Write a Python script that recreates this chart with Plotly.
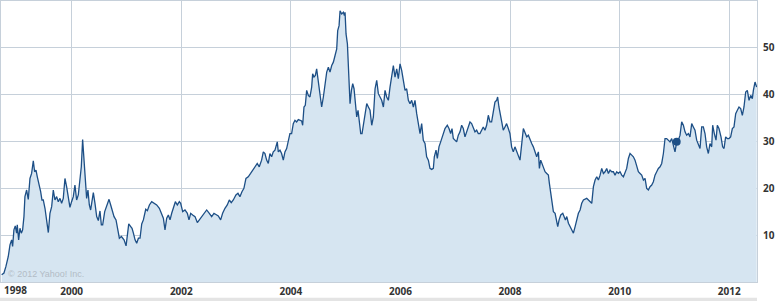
import pandas as pd
import plotly.graph_objects as go

# Decimal-year positions and closing prices
years = [
    1998.722, 1998.764, 1998.800, 1998.843, 1998.874, 1998.904, 1998.922, 1998.946, 1998.971, 1998.995,
    1999.007, 1999.032, 1999.056, 1999.081, 1999.105, 1999.129, 1999.147, 1999.178, 1999.208, 1999.239,
    1999.269, 1999.300, 1999.324, 1999.349, 1999.373, 1999.409, 1999.434, 1999.458, 1999.482, 1999.513,
    1999.543, 1999.574, 1999.604, 1999.635, 1999.665, 1999.695, 1999.726, 1999.756, 1999.787, 1999.817,
    1999.847, 1999.878, 1999.908, 1999.939, 1999.969, 1999.999, 2000.030, 2000.060, 2000.091, 2000.121,
    2000.151, 2000.176, 2000.200, 2000.224, 2000.249, 2000.273, 2000.297, 2000.322, 2000.346, 2000.370,
    2000.395, 2000.425, 2000.456, 2000.486, 2000.516, 2000.541, 2000.565, 2000.602, 2000.638, 2000.681,
    2000.711, 2000.747, 2000.772, 2000.808, 2000.839, 2000.869, 2000.906, 2000.954, 2000.991, 2001.015,
    2001.040, 2001.076, 2001.100, 2001.125, 2001.155, 2001.185, 2001.216, 2001.246, 2001.277, 2001.307,
    2001.350, 2001.380, 2001.417, 2001.459, 2001.502, 2001.550, 2001.599, 2001.642, 2001.672, 2001.702,
    2001.733, 2001.763, 2001.794, 2001.824, 2001.855, 2001.891, 2001.927, 2001.964, 2001.988, 2002.025,
    2002.067, 2002.110, 2002.140, 2002.171, 2002.207, 2002.250, 2002.292, 2002.329, 2002.365, 2002.414,
    2002.463, 2002.511, 2002.554, 2002.596, 2002.633, 2002.675, 2002.718, 2002.754, 2002.797, 2002.839,
    2002.876, 2002.912, 2002.949, 2002.997, 2003.034, 2003.070, 2003.107, 2003.143, 2003.180, 2003.222,
    2003.265, 2003.301, 2003.344, 2003.386, 2003.423,
    2003.466, 2003.497, 2003.527, 2003.558, 2003.588, 2003.618, 2003.649, 2003.679, 2003.710, 2003.752,
    2003.771, 2003.801, 2003.831, 2003.862, 2003.892, 2003.923, 2003.953, 2003.983, 2004.014, 2004.044,
    2004.075, 2004.105, 2004.136, 2004.166, 2004.196, 2004.215, 2004.239, 2004.263, 2004.288, 2004.318,
    2004.348, 2004.379, 2004.397, 2004.421, 2004.446, 2004.470, 2004.500, 2004.531, 2004.561, 2004.592,
    2004.622, 2004.653, 2004.683, 2004.713, 2004.744, 2004.774, 2004.805, 2004.835, 2004.853, 2004.878,
    2004.896, 2004.926, 2004.957, 2004.975, 2004.987, 2005.005, 2005.030, 2005.054, 2005.078, 2005.103,
    2005.127, 2005.151, 2005.176, 2005.200, 2005.224, 2005.249, 2005.273, 2005.297, 2005.322, 2005.352,
    2005.383, 2005.413, 2005.443, 2005.474, 2005.504, 2005.535, 2005.565, 2005.595, 2005.626, 2005.656,
    2005.687, 2005.717, 2005.747, 2005.778, 2005.808, 2005.839, 2005.869, 2005.899, 2005.930, 2005.960,
    2005.991, 2006.021, 2006.052, 2006.082, 2006.112, 2006.143, 2006.173, 2006.204, 2006.234, 2006.264,
    2006.295, 2006.325, 2006.356, 2006.386, 2006.416, 2006.447, 2006.477, 2006.508, 2006.538, 2006.569,
    2006.599, 2006.617, 2006.648, 2006.672, 2006.702, 2006.733, 2006.769, 2006.812, 2006.854, 2006.885,
    2006.915, 2006.940, 2006.964, 2006.994, 2007.025, 2007.055, 2007.086, 2007.116, 2007.146, 2007.177,
    2007.207, 2007.238, 2007.268, 2007.298, 2007.329, 2007.359, 2007.390, 2007.420, 2007.450, 2007.481,
    2007.511, 2007.542, 2007.572, 2007.603, 2007.633, 2007.663, 2007.694, 2007.724, 2007.755, 2007.773,
    2007.797, 2007.815, 2007.846, 2007.876, 2007.907, 2007.937, 2007.968, 2007.998, 2008.028, 2008.059,
    2008.089, 2008.120, 2008.150, 2008.181,
    2008.242, 2008.272, 2008.303, 2008.333, 2008.363, 2008.394, 2008.424, 2008.455, 2008.485, 2008.516,
    2008.534, 2008.558, 2008.582, 2008.607, 2008.637, 2008.668, 2008.698, 2008.716, 2008.741, 2008.765,
    2008.789, 2008.820, 2008.850, 2008.868, 2008.893, 2008.923, 2008.960, 2008.984, 2009.008, 2009.033,
    2009.063, 2009.093, 2009.124, 2009.154, 2009.185, 2009.215, 2009.245, 2009.276, 2009.306, 2009.337,
    2009.367, 2009.397, 2009.428, 2009.458, 2009.489, 2009.519, 2009.550, 2009.580, 2009.610, 2009.641,
    2009.671, 2009.702, 2009.732, 2009.762, 2009.793, 2009.823, 2009.854, 2009.884, 2009.914, 2009.945,
    2009.975, 2010.006, 2010.036, 2010.067, 2010.097, 2010.127, 2010.158, 2010.188, 2010.219, 2010.249,
    2010.279, 2010.310, 2010.340, 2010.371, 2010.401, 2010.432, 2010.462, 2010.492, 2010.523, 2010.553,
    2010.584, 2010.614, 2010.644, 2010.675, 2010.705, 2010.736, 2010.766, 2010.797, 2010.827, 2010.857,
    2010.888, 2010.918, 2010.949, 2010.979, 2011.009, 2011.040, 2011.070, 2011.101, 2011.131, 2011.162,
    2011.192, 2011.222, 2011.253, 2011.283, 2011.314, 2011.344, 2011.374, 2011.405, 2011.435, 2011.466,
    2011.496, 2011.526, 2011.557, 2011.587, 2011.618, 2011.648, 2011.679, 2011.697, 2011.727, 2011.758,
    2011.782, 2011.812, 2011.849, 2011.879, 2011.904, 2011.934, 2011.964, 2011.995, 2012.025, 2012.056,
    2012.086, 2012.117, 2012.147, 2012.177, 2012.208, 2012.238, 2012.268, 2012.299, 2012.329, 2012.360,
    2012.390, 2012.420, 2012.439, 2012.469, 2012.499,
]

prices = [
    1.55, 1.91, 3.33, 5.45, 7.94, 9.00, 7.58, 11.13, 11.98, 10.42,
    12.19, 9.00, 11.48, 10.42, 11.13, 13.96, 18.22, 19.64, 17.65, 22.11,
    23.18, 25.88, 23.54, 23.89, 22.47, 20.70, 19.28, 17.51, 17.51, 15.74,
    13.26, 10.56, 14.67, 16.09, 19.64, 17.51, 18.22, 17.15, 17.86, 16.80,
    17.86, 22.11, 20.35, 17.51, 15.95, 17.15, 18.22, 20.70, 17.51, 18.58,
    21.41, 24.60, 30.42, 26.73, 22.47, 17.86, 19.64, 16.45, 15.38, 16.80,
    19.07, 16.80, 13.96, 13.11, 15.17, 12.19, 12.19, 15.03, 16.09, 17.65,
    16.45, 14.67, 13.96, 13.26, 11.13, 9.35, 9.71, 9.00, 7.72, 10.42,
    12.40, 11.84, 11.48, 10.42, 9.00, 8.29, 9.35, 9.35, 12.40, 13.26,
    15.53, 15.24, 16.45, 17.15, 16.80, 16.45, 15.74, 14.32, 13.61, 11.13,
    13.61, 14.32, 13.26, 14.67, 15.74, 17.15, 16.45, 17.15, 16.80, 15.03,
    15.38, 14.67, 13.26, 14.67, 14.32, 13.96, 12.69, 13.26, 13.96, 14.67,
    15.38, 14.67, 13.96, 14.67, 14.32, 14.11, 13.26, 14.67, 15.74, 16.45,
    17.51, 16.94, 17.51, 18.58, 18.93, 18.22, 19.28, 19.99, 22.11, 22.47,
    23.18, 23.89, 24.60, 25.31, 24.60,
    26.02, 27.79, 27.44, 26.02, 25.31, 27.44, 26.73, 27.79, 28.15, 29.92,
    27.79, 28.15, 27.44, 26.02, 27.79, 28.50, 30.28, 31.70, 31.70, 33.82,
    34.53, 34.18, 34.67, 34.53, 34.39, 33.47, 37.37, 37.72, 40.91, 39.85,
    39.50, 41.62, 44.46, 43.75, 44.11, 45.52, 42.69, 39.50, 37.37, 39.50,
    42.33, 44.81, 45.88, 44.81, 46.23, 46.94, 48.36, 49.78, 53.68, 54.74,
    57.93, 57.23, 57.58, 56.87, 57.58, 52.97, 50.84, 44.46, 38.08, 40.91,
    42.33, 41.27, 38.79, 35.24, 36.66, 33.82, 31.70, 31.70, 33.82, 35.95,
    38.08, 37.37, 36.66, 33.47, 35.24, 41.27, 43.04, 40.21, 39.50, 38.79,
    37.37, 40.91, 39.50, 38.79, 41.62, 44.46, 46.23, 43.75, 45.52, 43.40,
    46.59, 45.17, 43.04, 40.91, 41.27, 38.79, 38.08, 38.79, 37.37, 38.79,
    35.95, 33.82, 31.70, 33.82, 30.28, 29.57, 26.73, 26.02, 24.25, 24.04,
    24.25, 26.73, 28.15, 26.38, 28.86, 29.92, 31.35, 32.76, 33.47, 32.76,
    31.70, 32.76, 30.63, 30.28, 29.92, 31.35, 32.06, 33.47, 32.76, 30.99,
    32.06, 33.47, 34.18, 33.82, 32.76, 32.06, 32.41, 31.70, 31.70, 32.41,
    33.11, 32.41, 33.47, 35.60, 34.18, 34.18, 36.66, 38.43, 38.79, 39.50,
    37.37, 36.30, 34.53, 32.41, 33.11, 33.82, 32.76, 31.70, 28.86, 27.79,
    28.86, 27.79, 27.09, 26.02,
    32.76, 31.70, 30.99, 31.35, 30.28, 29.57, 28.86, 27.79, 26.73, 27.79,
    24.25, 26.02, 25.31, 24.60, 23.54, 23.18, 22.82, 21.06, 18.93, 16.09,
    15.03, 14.67, 13.26, 11.84, 13.26, 14.32, 14.67, 13.96, 13.26, 13.96,
    12.55, 11.84, 11.13, 10.42, 11.84, 13.26, 14.67, 15.38, 16.80, 17.51,
    17.65, 17.86, 17.51, 17.15, 16.80, 20.35, 21.77, 22.47, 21.77, 22.82,
    24.25, 23.18, 23.54, 24.25, 23.18, 23.89, 23.54, 23.54, 22.82, 23.54,
    23.18, 23.54, 22.82, 22.47, 23.18, 24.25, 26.38, 27.44, 27.09, 26.73,
    26.02, 24.60, 23.54, 23.18, 22.82, 21.77, 22.11, 19.99, 19.64, 20.35,
    20.70, 21.41, 22.82, 23.54, 24.25, 24.60, 25.31, 27.44, 30.63, 30.63,
    30.28, 29.92, 30.63, 28.86, 27.79, 29.92, 30.28, 31.35, 34.18, 33.47,
    32.06, 31.35, 31.70, 30.99, 33.82, 33.11, 32.41, 30.28, 29.57, 28.50,
    33.11, 33.11, 31.70, 28.86, 27.44, 29.57, 28.86, 33.47, 31.70, 30.28,
    33.47, 32.76, 30.99, 28.86, 28.50, 30.99, 30.63, 30.63, 30.99, 32.76,
    33.11, 35.95, 36.66, 37.37, 37.02, 35.60, 37.37, 40.56, 40.91, 38.79,
    39.85, 39.15, 40.91, 42.69, 41.63,
]

tick_years = [2000, 2002, 2004, 2006, 2008, 2010, 2012]
tick_labels = ["2000", "2002", "2004", "2006", "2008", "2010", "2012"]
first_label = "1998"
y_ticks = [10, 20, 30, 40, 50]
marker_year = [2011.040]
marker_price = [29.92]
x_range_years = [1998.710, 2012.505]
y_range = [0, 60]


def to_date(t):
    y = int(t)
    s = pd.Timestamp(y, 1, 1)
    e = pd.Timestamp(y + 1, 1, 1)
    return s + (e - s) * (t - y)


dates = [to_date(t) for t in years]

LINE = "#1d4f86"
FILL = "#d6e5f1"
GRID = "#c6d0da"

fig = go.Figure()
fig.add_trace(go.Scatter(
    x=dates, y=prices, mode="lines",
    line=dict(color=LINE, width=1.3),
    fill="tozeroy", fillcolor=FILL,
    hoverinfo="skip", showlegend=False,
))
fig.add_trace(go.Scatter(
    x=[to_date(t) for t in marker_year], y=marker_price, mode="markers",
    marker=dict(color=LINE, size=8),
    hoverinfo="skip", showlegend=False,
))

tick_font = dict(family="Open Sans", size=10, color="#333333", weight="bold")

fig.update_layout(
    width=782, height=301,
    margin=dict(l=1, r=25, t=1, b=19),
    paper_bgcolor="white", plot_bgcolor="white",
    xaxis=dict(
        type="date",
        range=[to_date(x_range_years[0]), to_date(x_range_years[1])],
        tickvals=[pd.Timestamp(y, 1, 1) for y in tick_years],
        ticktext=tick_labels,
        showgrid=True, gridcolor=GRID, gridwidth=1,
        showline=True, linecolor=GRID, linewidth=1, mirror=True,
        ticks="", tickfont=tick_font, zeroline=False,
    ),
    yaxis=dict(
        side="right", range=y_range,
        tickvals=y_ticks,
        showgrid=True, gridcolor=GRID, gridwidth=1,
        showline=True, linecolor=GRID, linewidth=1, mirror=True,
        ticks="outside", ticklen=3, tickcolor="rgba(0,0,0,0)",
        tickfont=tick_font, zeroline=False,
    ),
    annotations=[
        dict(text="© 2012 Yahoo! Inc.", xref="paper", yref="paper",
             x=0.007, y=0.028, xanchor="left", yanchor="middle", showarrow=False,
             font=dict(family="Liberation Sans", size=9, color="#b3bcc6")),
        dict(text=first_label, xref="paper", yref="paper",
             x=(15 - 1) / 756, y=-0.0285, xanchor="center", yanchor="middle", showarrow=False,
             font=tick_font),
    ],
    shapes=[
        dict(type="rect", xref="paper", yref="paper", x0=-0.002, x1=1.0,
             y0=-0.068, y1=-0.056, fillcolor="#e4e4e4", line=dict(width=0), layer="below"),
    ],
)

fig.write_html("out.html")
